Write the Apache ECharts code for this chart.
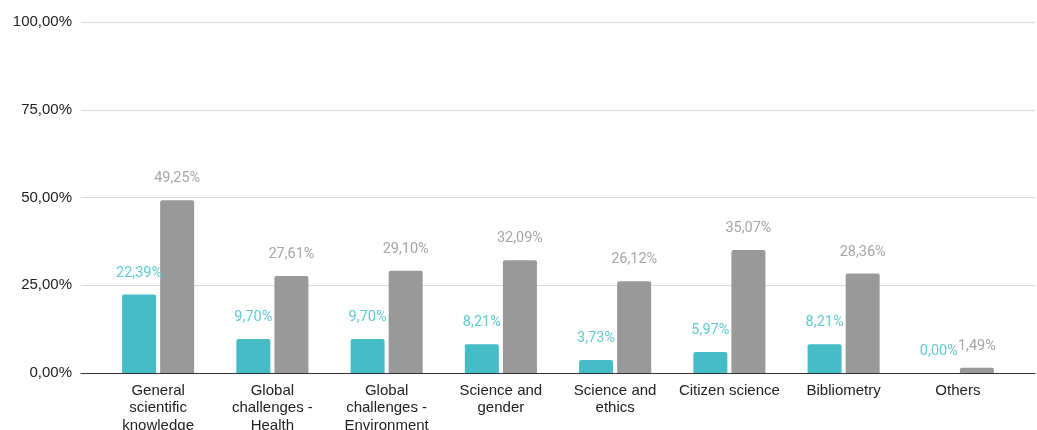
<!DOCTYPE html>
<html><head><meta charset="utf-8">
<script src="https://cdn.jsdelivr.net/npm/echarts@6/dist/echarts.min.js"></script>
<style>html,body{margin:0;padding:0;background:#fff}#c{width:1037px;height:430px}</style>
</head><body><div id="c"></div>
<script>
const categories = ["General\nscientific\nknowledge", "Global\nchallenges -\nHealth", "Global\nchallenges -\nEnvironment", "Science and\ngender", "Science and\nethics", "Citizen science", "Bibliometry", "Others"];
const seriesA = [22.39, 9.70, 9.70, 8.21, 3.73, 5.97, 8.21, 0.00];
const seriesB = [49.25, 27.61, 29.10, 32.09, 26.12, 35.07, 28.36, 1.49];
const yTicks = [0, 25, 50, 75, 100];

const fmt = v => v.toFixed(2).replace('.', ',') + '%';
const axisFont = '"Liberation Sans", Arial, sans-serif';
const labelFont = 'Roboto';
const chart = echarts.init(document.getElementById('c'), null, {renderer: 'canvas'});
chart.setOption({
  animation: false,
  backgroundColor: '#fff',
  grid: [
    {left: 81, right: 2, top: 22, bottom: 57, containLabel: false, outerBoundsMode: 'none'},
    {left: 101, right: 22, top: 22, bottom: 57, containLabel: false, outerBoundsMode: 'none'}
  ],
  xAxis: [
    {gridIndex: 0, type: 'category', data: categories, axisLabel: {show: false}, axisTick: {show: false},
     axisLine: {show: true, lineStyle: {color: '#333', width: 1}}},
    {gridIndex: 1, type: 'category', data: categories, axisTick: {show: false}, axisLine: {show: false},
     axisLabel: {color: '#222', fontFamily: axisFont, fontSize: 15, lineHeight: 17.5, margin: 9, interval: 0}}
  ],
  yAxis: [
    {gridIndex: 0, type: 'value', min: yTicks[0], max: yTicks[yTicks.length - 1], interval: 25,
     axisLine: {show: false}, axisTick: {show: false},
     splitLine: {lineStyle: {color: '#d9d9d9', width: 1}},
     axisLabel: {color: '#222', fontFamily: axisFont, fontSize: 15, margin: 9, verticalAlign: 'middle', padding: [2, 0, 0, 0], formatter: v => fmt(v)}},
    {gridIndex: 1, type: 'value', min: yTicks[0], max: yTicks[yTicks.length - 1], interval: 25, show: false,
     splitLine: {show: false}}
  ],
  series: [
    {type: 'bar', xAxisIndex: 1, yAxisIndex: 1, data: seriesA, barWidth: 34, barGap: '12%',
     itemStyle: {color: '#46bdc6', borderRadius: [2, 2, 0, 0]},
     label: {show: true, position: 'top', distance: 14, color: '#5fcad2', fontFamily: labelFont, fontSize: 14.5,
             formatter: p => fmt(p.value)}},
    {type: 'bar', xAxisIndex: 1, yAxisIndex: 1, data: seriesB, barWidth: 34,
     itemStyle: {color: '#999999', borderRadius: [2, 2, 0, 0]},
     label: {show: true, position: 'top', distance: 14, color: '#a6a6a6', fontFamily: labelFont, fontSize: 14.5,
             formatter: p => fmt(p.value)}}
  ]
});
</script></body></html>
